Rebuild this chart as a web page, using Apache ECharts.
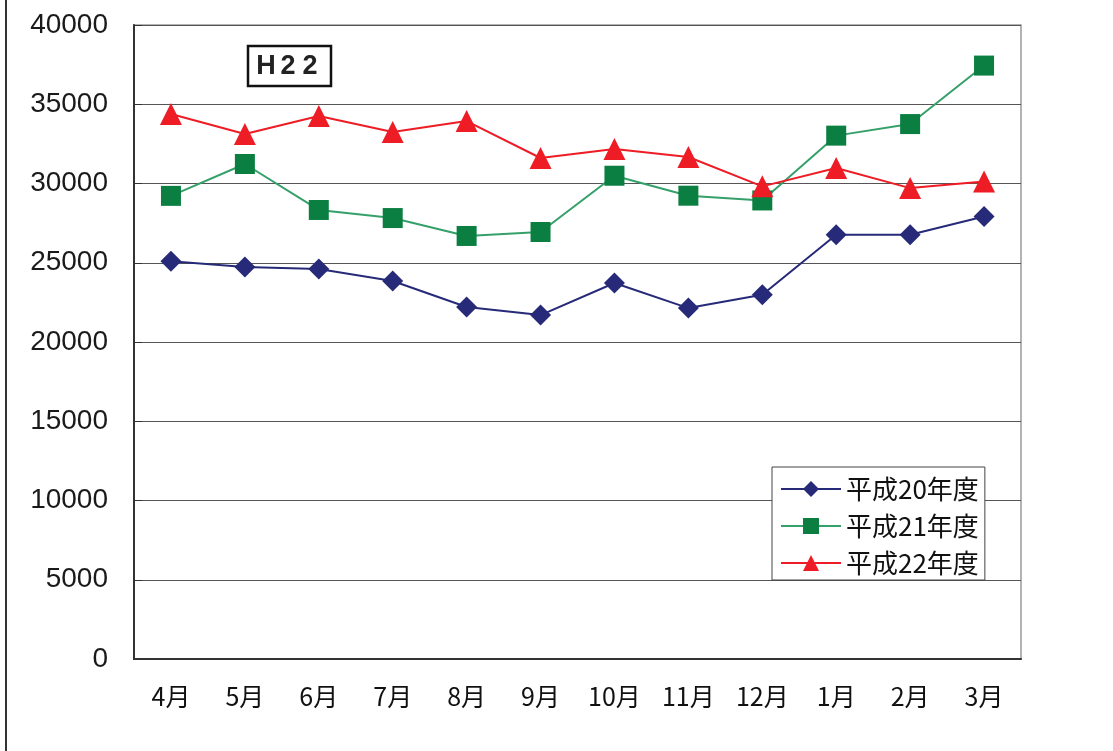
<!DOCTYPE html>
<html>
<head>
<meta charset="utf-8">
<script src="https://cdn.jsdelivr.net/npm/echarts@6/dist/echarts.min.js"></script>
<style>
  html, body { margin: 0; padding: 0; background: #fff; }
  #chart { width: 1113px; height: 751px; }
</style>
</head>
<body>
<div id="chart"></div>
<script>
const months = ['4月', '5月', '6月', '7月', '8月', '9月', '10月', '11月', '12月', '1月', '2月', '3月']
const seriesNames = ['平成20年度', '平成21年度', '平成22年度']
const h20 = [25100, 24730, 24600, 23850, 22210, 21700, 23720, 22140, 22980, 26770, 26770, 27920]
const h21 = [29220, 31230, 28330, 27820, 26690, 26940, 30490, 29230, 28930, 33020, 33750, 37440]
const h22 = [34380, 33120, 34260, 33250, 33940, 31610, 32180, 31670, 29820, 30980, 29710, 30130]
const yTicks = [0, 5000, 10000, 15000, 20000, 25000, 30000, 35000, 40000]

const chart = echarts.init(document.getElementById('chart'))

const makeSerie = function(name, data, symbol, size, markColor, lineColor) {
  return {
    name: name,
    type: 'line',
    data: data,
    symbol: symbol,
    symbolSize: size,
    itemStyle: { color: markColor },
    lineStyle: { color: lineColor, width: 2 },
    emphasis: { disabled: true },
    animation: false
  }
}

const labelFont = 'bold 27px "Liberation Sans"'
const h22Letters = [['H', 266], ['2', 288], ['2', 310]]

chart.setOption({
  backgroundColor: '#FFFFFF',
  animation: false,
  grid: {
    left: 134,
    right: 92,
    top: 25,
    bottom: 92,
    show: true,
    borderColor: '#9a9a9a',
    borderWidth: 1.5
  },
  legend: {
    orient: 'vertical',
    left: 772,
    top: 467,
    padding: [9, 6, 4, 8],
    itemGap: 11,
    itemWidth: 60,
    itemHeight: 20,
    backgroundColor: '#fff',
    borderColor: '#444',
    borderWidth: 1,
    textStyle: {
      color: '#111',
      fontSize: 26,
      fontFamily: 'Noto Sans CJK JP'
    },
    data: seriesNames
  },
  xAxis: {
    type: 'category',
    data: months,
    boundaryGap: true,
    axisLine: { lineStyle: { color: '#333', width: 2 } },
    axisTick: { inside: true, length: 8, lineStyle: { color: '#333' } },
    axisLabel: {
      margin: 25,
      color: '#111',
      fontSize: 25,
      fontFamily: 'Noto Sans CJK JP'
    },
    splitLine: { show: false }
  },
  yAxis: {
    type: 'value',
    min: yTicks[0],
    max: yTicks[yTicks.length - 1],
    interval: 5000,
    axisLine: { show: true, lineStyle: { color: '#333', width: 2 } },
    axisTick: { show: true, inside: true, length: 8, lineStyle: { color: '#333' } },
    axisLabel: {
      margin: 26,
      color: '#1a1a1a',
      fontSize: 28,
      fontFamily: 'Liberation Sans',
      padding: [7, 0, 0, 0],
      formatter: function(v) { return String(v) }
    },
    splitLine: { show: true, lineStyle: { color: '#555', width: 1.2 } }
  },
  graphic: [
    {
      type: 'line',
      shape: { x1: 6, y1: 0, x2: 6, y2: 751 },
      style: { stroke: '#333', lineWidth: 2 }
    },
    {
      type: 'rect',
      shape: { x: 248, y: 46, width: 83, height: 40 },
      style: { fill: '#fff', stroke: '#111', lineWidth: 2.5 }
    }
  ].concat(h22Letters.map(function(l) {
    return {
      type: 'text',
      x: l[1],
      y: 67,
      style: {
        text: l[0],
        fill: '#222',
        font: labelFont,
        align: 'center',
        verticalAlign: 'middle'
      }
    }
  })),
  series: [
    makeSerie(seriesNames[0], h20, 'diamond', 21, '#262a78', '#262a78'),
    makeSerie(seriesNames[1], h21, 'rect', 20, '#0b7f41', '#35a06a'),
    makeSerie(seriesNames[2], h22, 'triangle', 22, '#ee1c25', '#ee1c25')
  ]
})
</script>
</body>
</html>
